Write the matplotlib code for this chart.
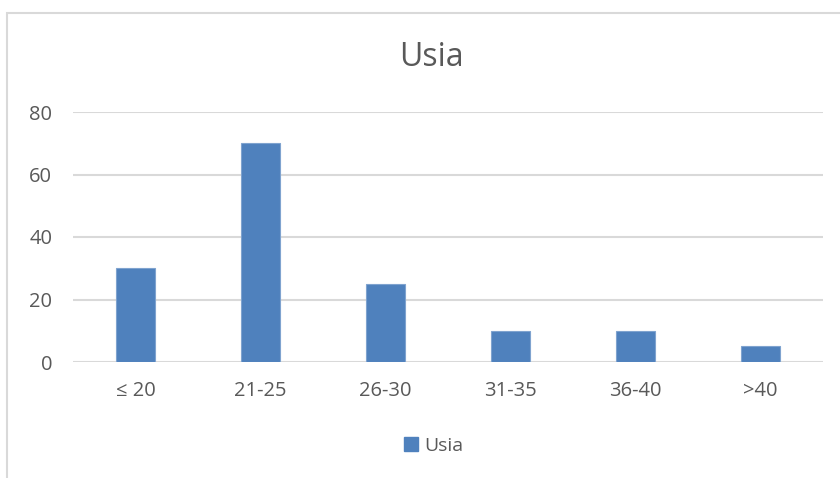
import matplotlib.pyplot as plt
from matplotlib.patches import Rectangle, Patch

# data
categories = ['\u2264 20', '21-25', '26-30', '31-35', '36-40', '>40']
values = [30, 70, 25, 10, 10, 5]
yticks = [0, 20, 40, 60, 80]

bar_color = '#4F81BD'
text_color = '#595959'
grid_color = '#D9D9D9'

plt.rcParams['font.family'] = ['Open Sans', 'DejaVu Sans']

W, H = 840, 478
fig = plt.figure(figsize=(W / 100, H / 100), dpi=100)

# chart frame (top + left visible, rest runs off the picture)
fig.patches.append(Rectangle((7 / W, -0.1), 1.2, (H - 13) / H + 0.1,
                             transform=fig.transFigure, fill=False,
                             edgecolor=grid_color, linewidth=1.5))

ax = fig.add_axes([73 / W, (H - 362) / H, 750 / W, 250 / H])
x = range(len(categories))
ax.bar(x, values, width=0.313, color=bar_color, edgecolor='#7FA3CF',
       linewidth=0.8, zorder=3)

ax.set_xlim(-0.5, len(categories) - 0.5)
ax.set_ylim(0, 80)
ax.set_yticks(yticks)
ax.set_xticks(list(x))
ax.set_xticklabels(categories)
for s in ax.spines.values():
    s.set_visible(False)
ax.grid(axis='y', color=grid_color, linewidth=1.5, zorder=0)
ax.tick_params(length=0, labelsize=14.5, colors=text_color)
ax.tick_params(axis='y', pad=15)
ax.tick_params(axis='x', pad=14)

fig.text(431 / W, 1 - 57 / H, 'Usia', ha='center', va='center',
         fontsize=23, color=text_color)

fig.legend(handles=[Patch(color=bar_color, label='Usia')],
           loc='center', bbox_to_anchor=(434 / W, 1 - 446 / H),
           frameon=False, fontsize=14, labelcolor=text_color,
           handlelength=0.7, handleheight=0.7, handletextpad=0.35)

fig.savefig('out.png', dpi=100)
